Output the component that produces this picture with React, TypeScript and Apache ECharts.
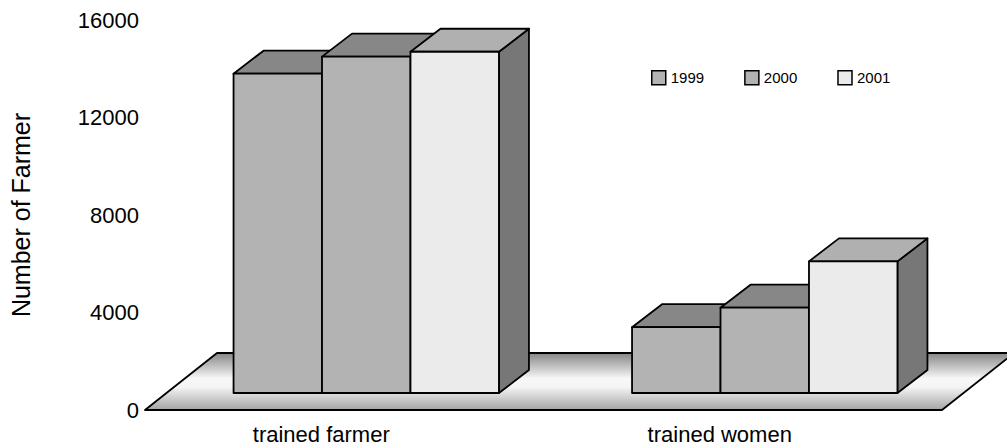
import React, { useEffect, useRef } from "react";
import * as echarts from "echarts";

const categories = ["trained farmer", "trained women"];
const years = ["1999", "2000", "2001"];
const values1999 = [13100, 2700];
const values2000 = [13800, 3500];
const values2001 = [14000, 5400];
const yTicks = { min: 0, max: 16000, interval: 4000 };

const frontColors = ["#b3b3b3", "#b3b3b3", "#ebebeb"];
const topColors = ["#878787", "#878787", "#b0b0b0"];
const sideColor = "#777777";
const FONT = "'Liberation Sans', Arial, sans-serif";

// bar plane offset from axis plane, and bar depth
const SHIFT_X = 22;
const SHIFT_Y = -17;
const DEPTH_X = 30;
const DEPTH_Y = -23;
const FLOOR_DX = 72;
const FLOOR_DY = -57;

const edge = { stroke: "#000", lineWidth: 1.8, lineJoin: "round" as const };

function renderBar(params: any, api: any) {
  const cat = api.value(0);
  const v = api.value(1);
  const base = api.coord([cat, 0]);
  const topPt = api.coord([cat, v]);
  const band = api.size([1, 0])[0];
  const barW = band * 0.222;
  const slot = params.seriesIndex - 1;
  const x0 = base[0] - 1.5 * barW + SHIFT_X + slot * barW;
  const x1 = x0 + barW;
  const yb = base[1] + SHIFT_Y;
  const yt = topPt[1] + SHIFT_Y;
  return {
    type: "group",
    children: [
      {
        type: "polygon",
        shape: { points: [[x1, yb], [x1 + DEPTH_X, yb + DEPTH_Y], [x1 + DEPTH_X, yt + DEPTH_Y], [x1, yt]] },
        style: { fill: sideColor, ...edge },
      },
      {
        type: "polygon",
        shape: { points: [[x0, yt], [x0 + DEPTH_X, yt + DEPTH_Y], [x1 + DEPTH_X, yt + DEPTH_Y], [x1, yt]] },
        style: { fill: topColors[slot], ...edge },
      },
      {
        type: "rect",
        shape: { x: x0, y: yt, width: barW, height: yb - yt },
        style: { fill: frontColors[slot], ...edge },
      },
    ],
  };
}

function renderFloor(params: any, api: any) {
  const cs = params.coordSys;
  const bottom = api.coord([0, 0])[1];
  const left = cs.x;
  const right = cs.x + cs.width;
  return {
    type: "polygon",
    shape: {
      points: [
        [left, bottom],
        [left + FLOOR_DX, bottom + FLOOR_DY],
        [right + FLOOR_DX, bottom + FLOOR_DY],
        [right, bottom],
      ],
    },
    style: {
      fill: {
        type: "linear",
        x: 0,
        y: 0,
        x2: 0,
        y2: 1,
        colorStops: [
          { offset: 0, color: "#868686" },
          { offset: 0.45, color: "#f8f8f8" },
          { offset: 0.6, color: "#f4f4f4" },
          { offset: 1, color: "#a4a4a4" },
        ],
      },
      ...edge,
    },
  };
}

const seriesValues = [values1999, values2000, values2001];

export default function App() {
  const ref = useRef<HTMLDivElement>(null);
  useEffect(() => {
    if (!ref.current) return;
    const chart = echarts.init(ref.current, null, { renderer: "svg" });
    chart.setOption({
      animation: false,
      backgroundColor: "#fff",
      grid: { left: 145, right: 65, top: 20, bottom: 38, containLabel: false },
      legend: {
        left: 646,
        top: 65,
        itemWidth: 14,
        itemHeight: 14,
        itemGap: 40,
        icon: "rect",
        textStyle: { fontFamily: FONT, fontSize: 15, color: "#000", padding: [0, 0, 5, 0] },
        data: years.map((y, i) => ({
          name: y,
          itemStyle: { color: frontColors[i], borderColor: "#000", borderWidth: 1.5 },
        })),
      },
      xAxis: {
        type: "category",
        data: categories,
        axisLine: { show: false },
        axisTick: { show: false },
        splitLine: { show: false },
        axisLabel: {
          fontFamily: FONT,
          fontSize: 22,
          color: "#000",
          margin: 13,
          padding: [0, 46, 0, 0],
        },
      },
      yAxis: {
        type: "value",
        min: yTicks.min,
        max: yTicks.max,
        interval: yTicks.interval,
        name: "Number of Farmer",
        nameLocation: "middle",
        nameGap: 112,
        nameTextStyle: { fontFamily: FONT, fontSize: 25, color: "#000" },
        axisLine: { show: false },
        axisTick: { show: false },
        splitLine: { show: false },
        axisLabel: {
          fontFamily: FONT,
          fontSize: 22,
          color: "#000",
          margin: 6,
          formatter: (v: number) => String(v),
        },
      },
      series: [
        {
          type: "custom",
          name: "floor",
          clip: false,
          silent: true,
          renderItem: renderFloor,
          data: [[0, 0]],
          z: 1,
        },
        ...years.map((y, i) => ({
          type: "custom",
          name: y,
          clip: false,
          renderItem: renderBar,
          itemStyle: { color: frontColors[i], borderColor: "#000", borderWidth: 1.5 },
          data: categories.map((_, c) => [c, seriesValues[i][c]]),
          z: 2,
        })),
      ],
    });
    return () => chart.dispose();
  }, []);
  return (
    <div
      ref={ref}
      style={{ position: "absolute", left: 0, top: 0, width: 1007, height: 448 }}
    />
  );
}
